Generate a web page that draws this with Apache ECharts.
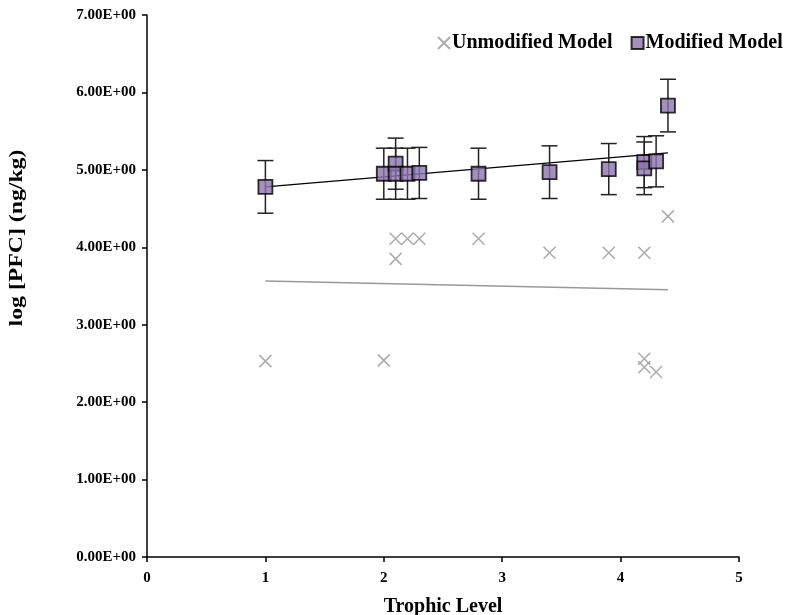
<!DOCTYPE html>
<html>
<head>
<meta charset="utf-8">
<script src="https://cdn.jsdelivr.net/npm/echarts@6/dist/echarts.min.js"></script>
<style>
  html,body{margin:0;padding:0;background:#fff;}
  #chart{width:790px;height:615px;}
</style>
</head>
<body>
<div id="chart"></div>
<script>
// trophic level (x) and log [PFC] (y)
var unmodX = [1, 2, 2.1, 2.1, 2.2, 2.3, 2.8, 3.4, 3.9, 4.2, 4.4, 4.2, 4.2, 4.3]
var unmodY = [2.53, 2.54, 4.11, 3.85, 4.11, 4.11, 4.11, 3.93, 3.93, 3.93, 4.40, 2.56, 2.45, 2.39]

var modX = [1, 2, 2.1, 2.1, 2.2, 2.3, 2.8, 3.4, 3.9, 4.2, 4.2, 4.3, 4.4]
var modY = [4.78, 4.95, 5.08, 4.95, 4.95, 4.96, 4.95, 4.97, 5.01, 5.10, 5.02, 5.11, 5.83]
var modErr = [0.34, 0.33, 0.33, 0.33, 0.33, 0.33, 0.33, 0.34, 0.33, 0.33, 0.34, 0.33, 0.34]

// linear trend line end points
var trendX = [1, 4.4]
var modTrend = [4.78, 5.22]
var unmodTrend = [3.565, 3.45]

var yTicks = [0, 1, 2, 3, 4, 5, 6, 7]

var crossPath = 'path://M0,0L10,10M10,0L0,10'
var font = '"Liberation Serif", "Times New Roman", serif'

function pairs(xs, ys){
  var out = []
  for(var i=0;i<xs.length;i++){
    out.push([xs[i], ys[i]])
  }
  return out
}

var errData = []
for(var i=0;i<modX.length;i++){
  errData.push([modX[i], modY[i], modErr[i]])
}

var chart = echarts.init(document.getElementById('chart'))
chart.setOption({
  animation:false,
  grid:{left:147, right:51, top:15, bottom:58, outerBoundsMode:'none', containLabel:false},
  legend:{
    data:[
      {name:'Unmodified Model', icon:crossPath},
      {name:'Modified Model', icon:'rect'}
    ],
    left:432, top:28,
    itemWidth:12, itemHeight:12, itemGap:18,
    textStyle:{fontFamily:font, fontWeight:'bold', fontSize:20, color:'#000', padding:[0,0,0,-3]}
  },
  // y axis title, stretched a little along its length like the original
  graphic:[{
    type:'text', x:17, y:238, rotation:Math.PI/2, scaleX:1.25,
    style:{text:'log [PFC] (ng/kg)', fontFamily:font, fontWeight:'bold', fontSize:19,
      fill:'#000', align:'center', verticalAlign:'middle'}
  }],
  xAxis:{
    type:'value', min:0, max:5, interval:1,
    name:'Trophic Level', nameLocation:'middle', nameGap:40,
    nameTextStyle:{fontFamily:font, fontWeight:'bold', fontSize:20, color:'#000'},
    axisLine:{lineStyle:{color:'#000', width:1.5}},
    axisTick:{length:5, lineStyle:{color:'#000', width:1.5}},
    axisLabel:{fontFamily:font, fontWeight:'bold', fontSize:15, color:'#000', margin:14},
    splitLine:{show:false}
  },
  yAxis:{
    type:'value', min:yTicks[0], max:yTicks[yTicks.length-1], interval:1,
    axisLine:{show:true, lineStyle:{color:'#000', width:1.5}},
    axisTick:{show:true, length:5, lineStyle:{color:'#000', width:1.5}},
    axisLabel:{fontFamily:font, fontWeight:'bold', fontSize:15, color:'#000', margin:11,
      formatter:function(v){ return v.toFixed(2)+'E+00' }},
    splitLine:{show:false}
  },
  series:[
    {
      name:'unmodTrend', type:'line', data:pairs(trendX, unmodTrend),
      symbol:'none', lineStyle:{color:'#999', width:1.5}, z:1, silent:true
    },
    {
      name:'modTrend', type:'line', data:pairs(trendX, modTrend),
      symbol:'none', lineStyle:{color:'#000', width:1.2}, z:1, silent:true
    },
    {
      name:'Unmodified Model', type:'scatter', data:pairs(unmodX, unmodY),
      symbol:crossPath, symbolSize:12,
      itemStyle:{color:'rgba(0,0,0,0)', borderColor:'#999', borderWidth:1.6},
      z:2
    },
    {
      name:'errBars', type:'custom', data:errData, z:3,
      renderItem:function(params, api){
        var x = api.value(0), y = api.value(1), e = api.value(2)
        var top = api.coord([x, y+e])
        var bot = api.coord([x, y-e])
        var cap = 8
        var st = {stroke:'#222', lineWidth:1.5}
        return {
          type:'group',
          children:[
            {type:'line', shape:{x1:top[0], y1:top[1], x2:bot[0], y2:bot[1]}, style:st},
            {type:'line', shape:{x1:top[0]-cap, y1:top[1], x2:top[0]+cap, y2:top[1]}, style:st},
            {type:'line', shape:{x1:bot[0]-cap, y1:bot[1], x2:bot[0]+cap, y2:bot[1]}, style:st}
          ]
        }
      }
    },
    {
      name:'Modified Model', type:'scatter', data:pairs(modX, modY),
      symbol:'rect', symbolSize:14,
      itemStyle:{color:'#8C74AE', borderColor:'#000', borderWidth:1.8},
      z:4
    }
  ]
})
</script>
</body>
</html>
